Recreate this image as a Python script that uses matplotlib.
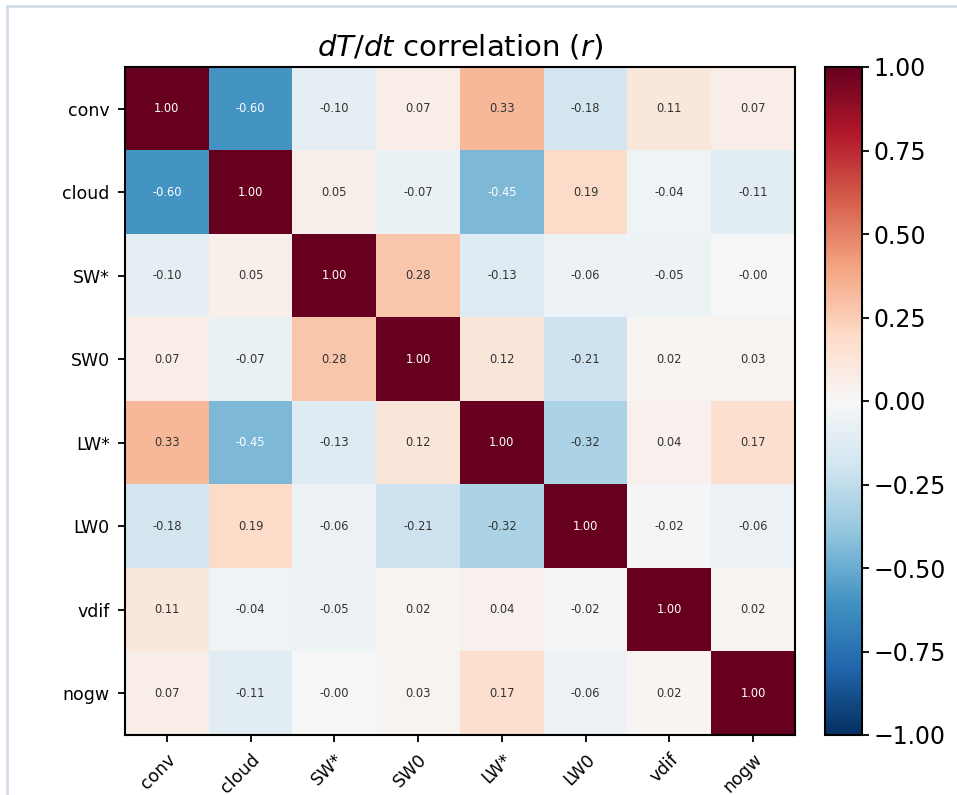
import numpy as np
import matplotlib
matplotlib.use("Agg")
import matplotlib.pyplot as plt
from matplotlib.patches import Rectangle

labels = ["conv", "cloud", "SW*", "SW0", "LW*", "LW0", "vdif", "nogw"]

row_conv = [1.00, -0.60, -0.10, 0.07, 0.33, -0.18, 0.11, 0.07]
row_cloud = [-0.60, 1.00, 0.05, -0.07, -0.45, 0.19, -0.04, -0.11]
row_swstar = [-0.10, 0.05, 1.00, 0.28, -0.13, -0.06, -0.05, -0.001]
row_sw0 = [0.07, -0.07, 0.28, 1.00, 0.12, -0.21, 0.02, 0.03]
row_lwstar = [0.33, -0.45, -0.13, 0.12, 1.00, -0.32, 0.04, 0.17]
row_lw0 = [-0.18, 0.19, -0.06, -0.21, -0.32, 1.00, -0.02, -0.06]
row_vdif = [0.11, -0.04, -0.05, 0.02, 0.04, -0.02, 1.00, 0.02]
row_nogw = [0.07, -0.11, -0.001, 0.03, 0.17, -0.06, 0.02, 1.00]

cbar_ticks = [-1, -0.75, -0.5, -0.25, 0, 0.25, 0.5, 0.75, 1]

corr = np.array([row_conv, row_cloud, row_swstar, row_sw0,
                 row_lwstar, row_lw0, row_vdif, row_nogw])

fig = plt.figure(figsize=(9.57, 7.95), dpi=100)
W, H = 957, 795

# notebook output frame
fig.add_artist(Rectangle((7 / W, -0.1), 1.2, 1.1 - 6 / H, transform=fig.transFigure,
                         fill=False, edgecolor="#d3dde6", linewidth=2))

ax = fig.add_axes([125 / W, 1 - 735 / H, 670 / W, 668 / H])
cax = fig.add_axes([825 / W, 1 - 735 / H, 37 / W, 668 / H])

im = ax.imshow(corr, cmap="RdBu_r", vmin=-1, vmax=1, aspect="auto")

n = len(labels)
for i in range(n):
    for j in range(n):
        v = corr[i, j]
        color = "white" if abs(v) > 0.4 else "#333333"
        ax.text(j, i, f"{v:.2f}", ha="center", va="center",
                fontsize=8.3, color=color)

ax.set_xticks(range(n))
ax.set_yticks(range(n))
ax.set_xticklabels(labels, rotation=45, ha="right", rotation_mode="anchor", fontsize=12.5)
ax.set_yticklabels(labels, fontsize=12.5)
ax.tick_params(length=5, width=1.3, pad=6)
for sp in ax.spines.values():
    sp.set_linewidth(1.5)
ax.set_title("$dT/dt$ correlation ($r$)", fontsize=21, pad=8)

cb = fig.colorbar(im, cax=cax)
cb.set_ticks(cbar_ticks)
cb.ax.set_yticklabels([f"{t:.2f}".replace("-", "\u2212") for t in cbar_ticks])
cb.ax.tick_params(labelsize=17, length=5, width=1.3)
cb.outline.set_linewidth(1.5)

fig.savefig("out.png", dpi=100)
